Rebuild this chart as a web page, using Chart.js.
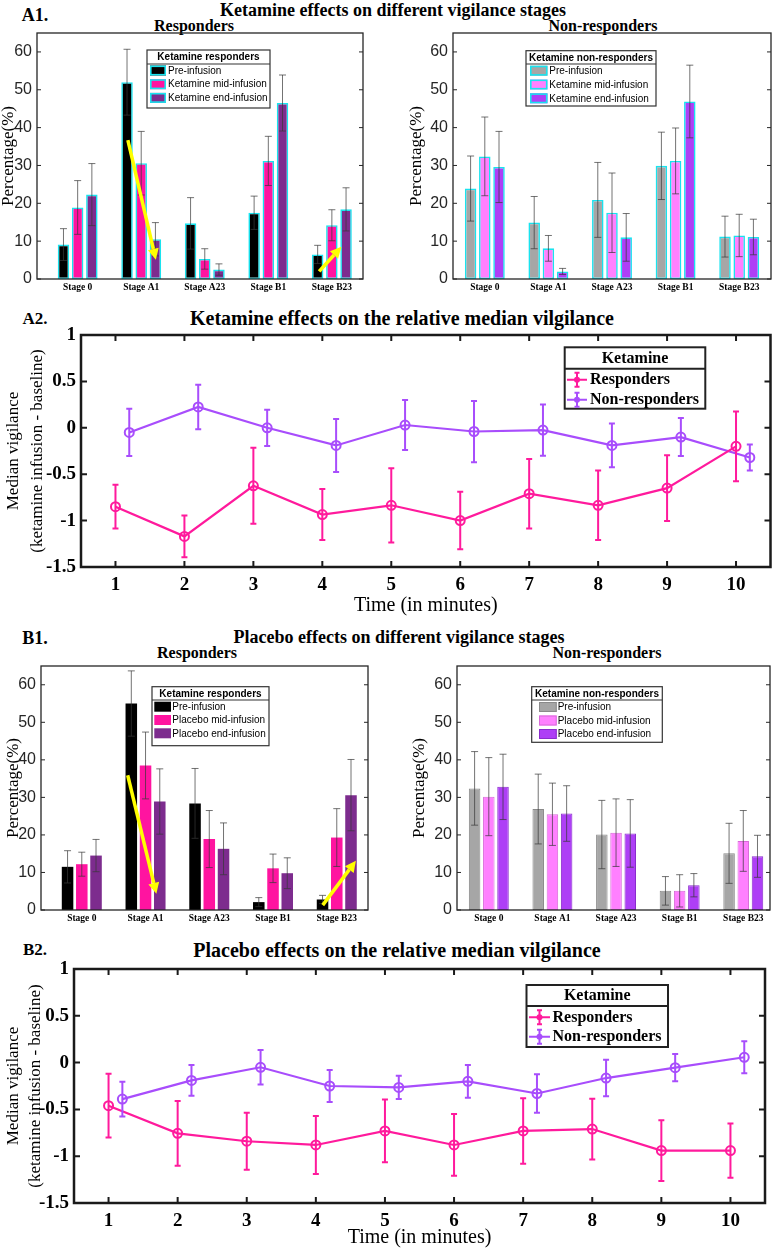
<!DOCTYPE html>
<html>
<head>
<meta charset="utf-8">
<script src="https://cdn.jsdelivr.net/npm/chart.js@4.4.1/dist/chart.umd.min.js"></script>
<style>
  body { margin: 0; background: #fff; }
  #page { position: relative; width: 777px; height: 1250px; overflow: hidden; font-family: "Liberation Serif", "Times New Roman", serif; }
  canvas { position: absolute; }
  .t { position: absolute; transform: translate(-50%, -50%); white-space: nowrap; line-height: 1; font-weight: bold; color: #000; }
</style>
</head>
<body>
<div id="page">
  <div class="t" style="left:35px;top:15px;font-size:18px">A1.</div>
  <div class="t" style="left:393px;top:10px;font-size:18px">Ketamine effects on different vigilance stages</div>
  <div class="t" style="left:194px;top:26px;font-size:16px">Responders</div>
  <div class="t" style="left:603px;top:26px;font-size:16px">Non-responders</div>

  <div class="t" style="left:35px;top:318px;font-size:17px">A2.</div>
  <div class="t" style="left:402px;top:318px;font-size:20px">Ketamine effects on the relative median vilgilance</div>

  <div class="t" style="left:35px;top:638px;font-size:18px">B1.</div>
  <div class="t" style="left:399px;top:637px;font-size:18px">Placebo effects on different vigilance stages</div>
  <div class="t" style="left:197px;top:653px;font-size:16px">Responders</div>
  <div class="t" style="left:607px;top:653px;font-size:16px">Non-responders</div>

  <div class="t" style="left:35px;top:949px;font-size:17px">B2.</div>
  <div class="t" style="left:397px;top:950px;font-size:20px">Placebo effects on the relative median vilgilance</div>

  <canvas id="a1r" width="372" height="300" style="left:0;top:0"></canvas>
  <canvas id="a1n" width="387" height="300" style="left:390px;top:0"></canvas>
  <canvas id="a2" width="777" height="315" style="left:0;top:305px"></canvas>
  <canvas id="b1r" width="375" height="298" style="left:0;top:633px"></canvas>
  <canvas id="b1n" width="387" height="298" style="left:390px;top:633px"></canvas>
  <canvas id="b2" width="777" height="310" style="left:0;top:940px"></canvas>
</div>
<script>
// ---------- data ----------
const stages = ['Stage 0', 'Stage A1', 'Stage A23', 'Stage B1', 'Stage B23'];
const percentTicks = [0, 10, 20, 30, 40, 50, 60];
const minutes = [1, 2, 3, 4, 5, 6, 7, 8, 9, 10];
const vigilanceTicks = [-1.5, -1, -0.5, 0, 0.5, 1];

// A1: ketamine, responders (mean, error half-width)
const ketRespPre = [9.1, 52.0, 14.7, 17.5, 6.5];
const ketRespPreErr = [4.2, 8.7, 6.8, 4.4, 2.4];
const ketRespMid = [18.9, 30.6, 5.3, 31.2, 14.2];
const ketRespMidErr = [7.1, 8.4, 2.7, 6.5, 4.1];
const ketRespEnd = [22.3, 10.5, 2.5, 46.5, 18.4];
const ketRespEndErr = [8.2, 4.4, 1.5, 7.4, 5.7];

// A1: ketamine, non-responders
const ketNonPre = [23.9, 14.9, 20.9, 29.9, 11.2];
const ketNonPreErr = [8.6, 6.9, 9.9, 8.9, 5.4];
const ketNonMid = [32.4, 8.1, 17.5, 31.2, 11.5];
const ketNonMidErr = [10.4, 3.4, 10.5, 8.7, 5.6];
const ketNonEnd = [29.6, 2.0, 11.0, 46.9, 11.1];
const ketNonEndErr = [9.4, 0.8, 6.3, 9.6, 4.7];

// B1: placebo, responders
const plaRespPre = [11.5, 55.0, 28.4, 2.1, 2.8];
const plaRespPreErr = [4.3, 8.7, 9.3, 1.2, 1.1];
const plaRespMid = [12.2, 38.5, 18.9, 11.1, 19.3];
const plaRespMidErr = [3.2, 8.9, 7.6, 3.8, 7.7];
const plaRespEnd = [14.5, 28.9, 16.3, 9.8, 30.6];
const plaRespEndErr = [4.3, 8.7, 6.9, 4.1, 9.5];

// B1: placebo, non-responders
const plaNonPre = [32.4, 26.9, 20.1, 5.1, 15.1];
const plaNonPreErr = [9.8, 9.3, 9.1, 3.8, 8.0];
const plaNonMid = [30.2, 25.5, 20.6, 5.1, 18.4];
const plaNonMidErr = [10.4, 8.3, 9.0, 4.3, 8.1];
const plaNonEnd = [32.8, 25.7, 20.4, 6.6, 14.3];
const plaNonEndErr = [8.7, 7.4, 9.0, 3.1, 5.6];

// A2: ketamine, relative median vigilance per minute
const ketRespMedian = [-0.85, -1.17, -0.625, -0.935, -0.835, -1.0, -0.71, -0.835, -0.65, -0.2];
const ketRespErr = [0.235, 0.225, 0.41, 0.275, 0.4, 0.31, 0.375, 0.375, 0.355, 0.375];
const ketNonMedian = [-0.05, 0.225, 0, -0.19, 0.03, -0.04, -0.025, -0.19, -0.1, -0.32];
const ketNonErr = [0.255, 0.24, 0.195, 0.285, 0.27, 0.33, 0.275, 0.235, 0.205, 0.14];

// B2: placebo, relative median vigilance per minute
const plaRespMedian = [-0.46, -0.756, -0.84, -0.88, -0.73, -0.88, -0.73, -0.71, -0.94, -0.94];
const plaRespErr = [0.34, 0.345, 0.305, 0.31, 0.335, 0.33, 0.35, 0.325, 0.325, 0.29];
const plaNonMedian = [-0.39, -0.19, -0.05, -0.25, -0.265, -0.2, -0.33, -0.165, -0.054, 0.057];
const plaNonErr = [0.185, 0.165, 0.185, 0.17, 0.125, 0.175, 0.205, 0.195, 0.145, 0.17];

// yellow annotation arrows, in data units [x1, y1, x2, y2]
const ketRespArrows = [[1.79, 36.7, 2.23, 5.1], [4.80, 2.0, 5.15, 8.5]];
const plaRespArrows = [[1.72, 35.9, 2.17, 4.3], [4.78, 1.3, 5.30, 13.1]];

// ---------- styling ----------
const serif = '"Liberation Serif", "Times New Roman", serif';
const sans = '"Liberation Sans", Arial, sans-serif';
const cyan = '#19e3ef';
const nonOffset = 0.2; // non-responders are drawn slightly to the right

const decorations = {};

function drawErrors(chart) {
  const ctx = chart.ctx, ys = chart.scales.y;
  chart.data.datasets.forEach((ds, i) => {
    if (!ds.errors) return;
    const meta = chart.getDatasetMeta(i);
    ctx.save();
    ctx.strokeStyle = ds.errorColor;
    ctx.lineWidth = ds.errorWidth;
    meta.data.forEach((el, j) => {
      const v = ds.data[j].y, e = ds.errors[j], c = ds.capHalf;
      const top = ys.getPixelForValue(v + e), bot = ys.getPixelForValue(v - e);
      ctx.beginPath();
      ctx.moveTo(el.x, top); ctx.lineTo(el.x, bot);
      ctx.moveTo(el.x - c, top); ctx.lineTo(el.x + c, top);
      ctx.moveTo(el.x - c, bot); ctx.lineTo(el.x + c, bot);
      ctx.stroke();
    });
    ctx.restore();
  });
}

function drawFrame(chart, f) {
  const ctx = chart.ctx;
  const { left, right, top, bottom } = chart.chartArea;
  const xs = chart.scales.x, ys = chart.scales.y;
  ctx.save();
  ctx.strokeStyle = f.color;
  ctx.lineWidth = f.tickWidth;
  ctx.beginPath();
  ys.ticks.forEach(t => {
    const p = ys.getPixelForValue(t.value);
    ctx.moveTo(left, p); ctx.lineTo(left + f.tick, p);
    ctx.moveTo(right, p); ctx.lineTo(right - f.tick, p);
  });
  if (f.xTicks) {
    xs.ticks.forEach(t => {
      const p = xs.getPixelForValue(t.value);
      ctx.moveTo(p, bottom); ctx.lineTo(p, bottom - f.tick);
      ctx.moveTo(p, top); ctx.lineTo(p, top + f.tick);
    });
  }
  ctx.stroke();
  ctx.lineWidth = f.width;
  ctx.strokeRect(left, top, right - left, bottom - top);
  ctx.restore();
}

function drawArrows(chart, list) {
  const ctx = chart.ctx, xs = chart.scales.x, ys = chart.scales.y;
  ctx.save();
  ctx.strokeStyle = '#ffff00';
  ctx.fillStyle = '#ffff00';
  ctx.lineWidth = 3.5;
  list.forEach(a => {
    const x1 = xs.getPixelForValue(a[0]), y1 = ys.getPixelForValue(a[1]);
    const x2 = xs.getPixelForValue(a[2]), y2 = ys.getPixelForValue(a[3]);
    const ang = Math.atan2(y2 - y1, x2 - x1), head = 11, hw = 5.5;
    const bx = x2 - head * Math.cos(ang), by = y2 - head * Math.sin(ang);
    ctx.beginPath(); ctx.moveTo(x1, y1); ctx.lineTo(bx, by); ctx.stroke();
    ctx.beginPath();
    ctx.moveTo(x2, y2);
    ctx.lineTo(bx + hw * Math.sin(ang), by - hw * Math.cos(ang));
    ctx.lineTo(bx - hw * Math.sin(ang), by + hw * Math.cos(ang));
    ctx.closePath(); ctx.fill();
  });
  ctx.restore();
}

function drawLegend(chart, L) {
  const ctx = chart.ctx;
  ctx.save();
  ctx.fillStyle = '#fff';
  ctx.fillRect(L.x, L.y, L.w, L.h);
  ctx.strokeStyle = L.border;
  ctx.lineWidth = L.lw;
  ctx.strokeRect(L.x, L.y, L.w, L.h);
  ctx.beginPath();
  ctx.moveTo(L.x, L.y + L.titleH); ctx.lineTo(L.x + L.w, L.y + L.titleH);
  ctx.stroke();
  ctx.fillStyle = '#000';
  ctx.font = L.titleFont;
  ctx.textAlign = 'center';
  ctx.textBaseline = 'middle';
  ctx.fillText(L.title, L.x + L.w / 2, L.y + L.titleH / 2 + 0.5);
  ctx.font = L.itemFont;
  ctx.textAlign = 'left';
  chart.data.datasets.forEach((ds, i) => {
    const cy = L.y + L.titleH + L.first + i * L.step;
    const x0 = L.x + L.sx;
    if (L.kind === 'bar') {
      ctx.fillStyle = ds.backgroundColor;
      ctx.fillRect(x0, cy - 5, L.sw, 10);
      if (ds.borderWidth) {
        const b = ds.borderWidth;
        ctx.strokeStyle = ds.borderColor;
        ctx.lineWidth = b;
        ctx.strokeRect(x0 + b / 2, cy - 5 + b / 2, L.sw - b, 10 - b);
      }
    } else {
      const xm = x0 + L.sw / 2;
      ctx.strokeStyle = ds.borderColor;
      ctx.fillStyle = ds.borderColor;
      ctx.lineWidth = 2;
      ctx.beginPath();
      ctx.moveTo(x0, cy); ctx.lineTo(x0 + L.sw, cy);
      ctx.moveTo(xm, cy - 7); ctx.lineTo(xm, cy + 7);
      ctx.moveTo(xm - 2.5, cy - 7); ctx.lineTo(xm + 2.5, cy - 7);
      ctx.moveTo(xm - 2.5, cy + 7); ctx.lineTo(xm + 2.5, cy + 7);
      ctx.stroke();
      ctx.beginPath(); ctx.arc(xm, cy, 3, 0, 2 * Math.PI); ctx.fill();
    }
    ctx.fillStyle = '#000';
    ctx.fillText(ds.label, L.x + L.tx, cy + 0.5);
  });
  ctx.restore();
}

Chart.register({
  id: 'decor',
  afterDatasetsDraw(chart) {
    const d = decorations[chart.canvas.id];
    if (!d) return;
    drawErrors(chart);
    drawFrame(chart, d.frame);
    if (d.arrows) drawArrows(chart, d.arrows);
    drawLegend(chart, d.legend);
  }
});

// ---------- bar panels ----------
function barSet(label, values, errors, color, border, bw) {
  return {
    label,
    data: values.map((v, i) => ({ x: i + 1, y: v })),
    errors,
    backgroundColor: color,
    borderColor: border,
    borderWidth: bw,
    borderSkipped: false,
    categoryPercentage: 0.67,
    barPercentage: 0.81,
    errorColor: 'rgba(55,55,55,0.7)',
    errorWidth: 1,
    capHalf: 3.5
  };
}

function barChart(id, datasets, p) {
  new Chart(document.getElementById(id), {
    type: 'bar',
    data: { datasets },
    options: {
      responsive: false,
      animation: false,
      layout: { padding: { top: 33, right: p.right, left: 0, bottom: 0 } },
      plugins: { legend: { display: false }, tooltip: { enabled: false } },
      scales: {
        x: {
          type: 'linear', offset: false, min: p.xmin, max: p.xmax,
          grid: { display: false, drawTicks: false }, border: { display: false },
          afterBuildTicks: s => { s.ticks = stages.map((_, i) => ({ value: i + 1 })); },
          afterFit: s => { s.height = 21; },
          ticks: {
            callback: v => stages[v - 1], autoSkip: false, maxRotation: 0,
            font: { family: serif, size: 9.5, weight: 'bold' }, color: '#000', padding: 3
          }
        },
        y: {
          min: 0, max: 65,
          grid: { display: false, drawTicks: false }, border: { display: false },
          afterBuildTicks: s => { s.ticks = percentTicks.map(v => ({ value: v })); },
          afterFit: s => { s.width = p.yWidth; },
          ticks: { font: { family: sans, size: 16 }, color: '#262626', padding: 5 },
          title: {
            display: true, text: 'Percentage(%)', color: '#000',
            font: { family: serif, size: 17, lineHeight: 1 },
            padding: { top: p.titlePad, bottom: 0 }
          }
        }
      }
    }
  });
}

const barFrame = { color: '#262626', width: 1.3, tick: 4, tickWidth: 1, xTicks: false };
function barLegend(x, y, w, h, titleH, first, step, sx, sw, tx, title) {
  return {
    kind: 'bar', x, y, w, h, titleH, first, step, sx, sw, tx, title,
    titleFont: 'bold 10px ' + sans, itemFont: '10px ' + sans, border: '#333', lw: 1.2
  };
}

decorations.a1r = { frame: barFrame, arrows: ketRespArrows,
  legend: barLegend(147, 50, 123, 58, 14, 6.5, 13.7, 3, 16, 21, 'Ketamine responders') };
barChart('a1r', [
  barSet('Pre-infusion', ketRespPre, ketRespPreErr, '#000000', cyan, 1.6),
  barSet('Ketamine mid-infusion', ketRespMid, ketRespMidErr, '#ff14a0', cyan, 1.6),
  barSet('Ketamine end-infusion', ketRespEnd, ketRespEndErr, '#7d2c8e', cyan, 1.6)
], { xmin: 0.36, xmax: 5.49, yWidth: 37, right: 9, titlePad: 0 });

decorations.a1n = { frame: barFrame,
  legend: barLegend(136, 50.7, 130, 55.3, 13.3, 6.7, 13.8, 4, 17.5, 23.3, 'Ketamine non-responders') };
barChart('a1n', [
  barSet('Pre-infusion', ketNonPre, ketNonPreErr, '#a6a6a6', cyan, 1.6),
  barSet('Ketamine mid-infusion', ketNonMid, ketNonMidErr, '#ff80ff', cyan, 1.6),
  barSet('Ketamine end-infusion', ketNonEnd, ketNonEndErr, '#ae3ff6', cyan, 1.6)
], { xmin: 0.5, xmax: 5.5, yWidth: 63, right: 6, titlePad: 18 });

decorations.b1r = { frame: barFrame, arrows: plaRespArrows,
  legend: barLegend(152, 53.7, 117, 59, 13.3, 6.7, 13.3, 2.3, 16.7, 20.3, 'Ketamine responders') };
barChart('b1r', [
  barSet('Pre-infusion', plaRespPre, plaRespPreErr, '#000000', '#000000', 0),
  barSet('Placebo mid-infusion', plaRespMid, plaRespMidErr, '#ff14a0', '#ff14a0', 0),
  barSet('Placebo end-infusion', plaRespEnd, plaRespEndErr, '#7d2c8e', '#7d2c8e', 0)
], { xmin: 0.36, xmax: 5.49, yWidth: 41, right: 7, titlePad: 5 });

decorations.b1n = { frame: barFrame,
  legend: barLegend(141.7, 53.7, 130.6, 55.6, 13.3, 7, 13.5, 7.3, 17.7, 26, 'Ketamine non-responders') };
barChart('b1n', [
  barSet('Pre-infusion', plaNonPre, plaNonPreErr, '#a6a6a6', '#8a8a8a', 1),
  barSet('Placebo mid-infusion', plaNonMid, plaNonMidErr, '#ff80ff', '#d86ad8', 1),
  barSet('Placebo end-infusion', plaNonEnd, plaNonEndErr, '#ae3ff6', '#8a2ccc', 1)
], { xmin: 0.5, xmax: 5.42, yWidth: 67, right: 7, titlePad: 21.5 });

// ---------- line panels ----------
function lineSet(label, values, errors, color, offset) {
  return {
    label,
    data: minutes.map((m, i) => ({ x: m + offset, y: values[i] })),
    errors,
    borderColor: color,
    backgroundColor: color,
    borderWidth: 2.2,
    pointRadius: 4.5,
    pointBorderWidth: 2,
    pointBackgroundColor: 'rgba(255,255,255,0)',
    tension: 0,
    clip: false,
    errorColor: color,
    errorWidth: 2,
    capHalf: 3
  };
}

function lineChart(id, datasets, p) {
  new Chart(document.getElementById(id), {
    type: 'line',
    data: { datasets },
    options: {
      responsive: false,
      animation: false,
      layout: { padding: { top: p.top, right: p.right, left: 0, bottom: 0 } },
      plugins: { legend: { display: false }, tooltip: { enabled: false } },
      scales: {
        x: {
          type: 'linear', min: 0.5, max: 10.5,
          grid: { display: false, drawTicks: false }, border: { display: false },
          afterBuildTicks: s => { s.ticks = minutes.map(v => ({ value: v })); },
          afterFit: s => { s.height = p.xHeight; },
          ticks: { font: { family: serif, size: 19, weight: 'bold' }, color: '#000', padding: 7, maxRotation: 0 },
          title: {
            display: true, text: 'Time (in minutes)', color: '#000',
            font: { family: serif, size: 20, lineHeight: 1.2 },
            padding: { top: 0, bottom: p.xTitlePad }
          }
        },
        y: {
          min: -1.5, max: 1,
          grid: { display: false, drawTicks: false }, border: { display: false },
          afterBuildTicks: s => { s.ticks = vigilanceTicks.map(v => ({ value: v })); },
          afterFit: s => { s.width = p.yWidth; },
          ticks: { callback: v => String(v), font: { family: serif, size: 19, weight: 'bold' }, color: '#000', padding: 5 },
          title: {
            display: true, text: ['Median vigilance', '(ketamine infusion - baseline)'], color: '#000',
            font: { family: serif, size: 17, lineHeight: p.yLine },
            padding: { top: 2, bottom: 0 }
          }
        }
      }
    }
  });
}

const lineFrame = { color: '#1a1a1a', width: 2.5, tick: 6, tickWidth: 2, xTicks: true };
function lineLegend(x, y, w, h, titleH, first, step, sx, sw, tx) {
  return {
    kind: 'line', x, y, w, h, titleH, first, step, sx, sw, tx, title: 'Ketamine',
    titleFont: 'bold 16px ' + serif, itemFont: 'bold 16px ' + serif, border: '#222', lw: 2
  };
}

decorations.a2 = { frame: lineFrame, legend: lineLegend(564.7, 42.3, 140.6, 61.4, 21.4, 11, 20, 2.3, 20, 25.3) };
lineChart('a2', [
  lineSet('Responders', ketRespMedian, ketRespErr, '#ff1a9c', 0),
  lineSet('Non-responders', ketNonMedian, ketNonErr, '#a84dfc', nonOffset)
], { top: 30, right: 6, yWidth: 81, xHeight: 53, xTitlePad: 2, yLine: 1.4 });

decorations.b2 = { frame: lineFrame, legend: lineLegend(526.5, 45, 141.5, 62, 21, 11.3, 19.4, 2.5, 21, 26) };
lineChart('b2', [
  lineSet('Responders', plaRespMedian, plaRespErr, '#ff1a9c', 0),
  lineSet('Non-responders', plaNonMedian, plaNonErr, '#a84dfc', nonOffset)
], { top: 29, right: 12, yWidth: 74, xHeight: 47, xTitlePad: 0, yLine: 1.3 });
</script>
</body>
</html>
